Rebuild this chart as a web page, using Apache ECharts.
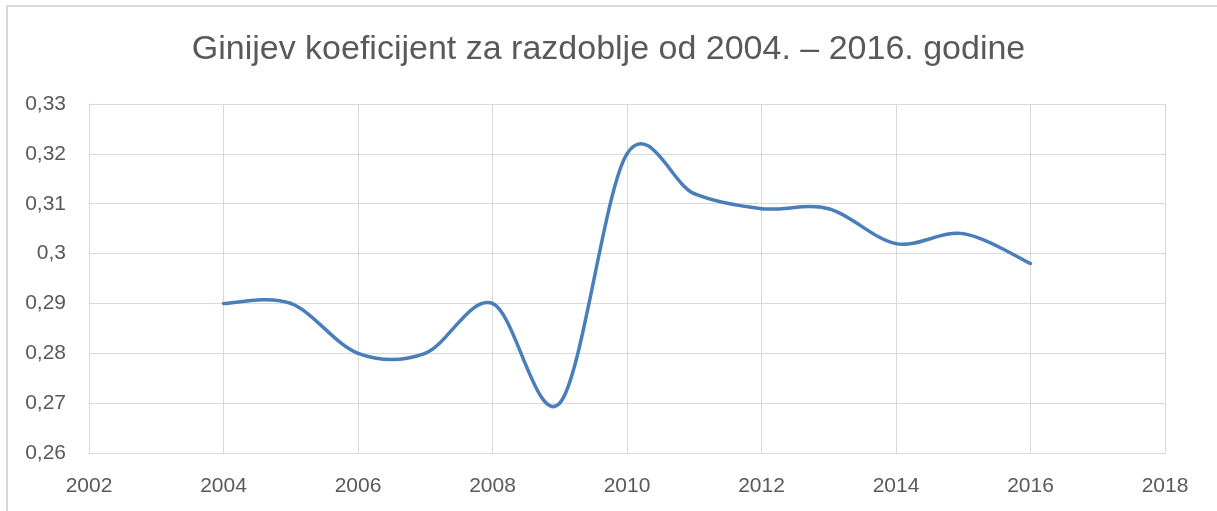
<!DOCTYPE html>
<html>
<head>
<meta charset="utf-8">
<script src="https://cdn.jsdelivr.net/npm/echarts@6/dist/echarts.min.js"></script>
<style>
html,body{margin:0;padding:0;background:#fff;}
#c{width:1217px;height:511px;}
</style>
</head>
<body>
<div id="c"></div>
<script>
var years = [2004, 2005, 2006, 2007, 2008, 2009, 2010, 2011, 2012, 2013, 2014, 2015, 2016];
var gini = [0.290, 0.290, 0.280, 0.280, 0.290, 0.270, 0.320, 0.312, 0.309, 0.309, 0.302, 0.304, 0.298];
var xTicks = [2002, 2018, 2];
var yTicks = [0.26, 0.33, 0.01];
var titleText = 'Ginijev koeficijent za razdoblje od 2004. – 2016. godine';

var chart = echarts.init(document.getElementById('c'), null, {renderer: 'canvas'});
var data = years.map(function (y, i) { return [y, gini[i]]; });
var gridColor = '#d9d9d9';
var textColor = '#595959';
var lineColor = '#4a7ebb';
var font = 'Liberation Sans';

// Smoothed line (Catmull-Rom style, as spreadsheet smoothing) drawn from the data via the axis scales
function renderSegment(params, api) {
  var i = params.dataIndex;
  var n = data.length;
  if (i >= n - 1) return null;
  function pt(k) {
    k = Math.max(0, Math.min(n - 1, k));
    return api.coord(data[k]);
  }
  var p0 = pt(i - 1), p1 = pt(i), p2 = pt(i + 1), p3 = pt(i + 2);
  var t = 1 / 6;
  return {
    type: 'bezierCurve',
    shape: {
      x1: p1[0], y1: p1[1],
      cpx1: p1[0] + (p2[0] - p0[0]) * t, cpy1: p1[1] + (p2[1] - p0[1]) * t,
      cpx2: p2[0] - (p3[0] - p1[0]) * t, cpy2: p2[1] - (p3[1] - p1[1]) * t,
      x2: p2[0], y2: p2[1]
    },
    style: {fill: null, stroke: lineColor, lineWidth: 3.5, lineCap: 'round'}
  };
}

chart.setOption({
  animation: false,
  backgroundColor: '#fff',
  graphic: [{
    type: 'rect',
    shape: {x: 7, y: 6, width: 1240, height: 540},
    style: {fill: 'none', stroke: '#d9d9d9', lineWidth: 2},
    silent: true
  }],
  title: {
    text: titleText,
    left: 'center',
    top: 28,
    textStyle: {fontFamily: font, fontSize: 34, fontWeight: 'normal', color: textColor}
  },
  grid: {left: 89, right: 52, top: 104, bottom: 58, containLabel: false},
  xAxis: {
    type: 'value',
    min: xTicks[0], max: xTicks[1], interval: xTicks[2],
    axisLine: {show: true, lineStyle: {color: gridColor, width: 1}},
    axisTick: {show: false},
    splitLine: {show: true, lineStyle: {color: gridColor, width: 1}},
    axisLabel: {fontFamily: font, fontSize: 21, color: textColor, margin: 23,
      formatter: function (v) { return String(v); }}
  },
  yAxis: {
    type: 'value',
    min: yTicks[0], max: yTicks[1], interval: yTicks[2],
    axisLine: {show: true, lineStyle: {color: gridColor, width: 1}},
    axisTick: {show: false},
    splitLine: {show: true, lineStyle: {color: gridColor, width: 1}},
    axisLabel: {fontFamily: font, fontSize: 21, color: textColor, margin: 23,
      formatter: function (v) { return String(+v.toFixed(2)).replace('.', ','); }}
  },
  series: [{
    type: 'custom',
    data: data,
    renderItem: renderSegment,
    clip: false,
    encode: {x: 0, y: 1}
  }]
});
</script>
</body>
</html>
